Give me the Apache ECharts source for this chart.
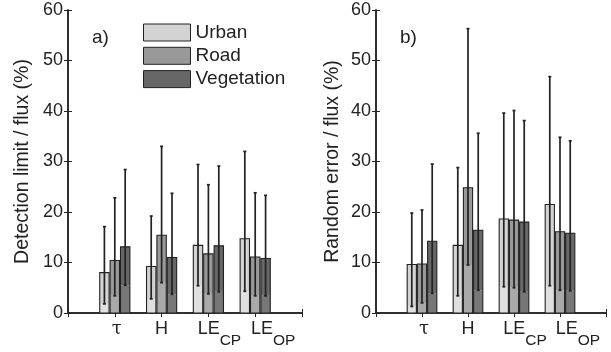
<!DOCTYPE html>
<html>
<head>
<meta charset="utf-8">
<script src="https://cdn.jsdelivr.net/npm/echarts@6/dist/echarts.min.js"></script>
<style>
  html, body { margin: 0; padding: 0; background: #fff; }
  #chart { width: 611px; height: 352px; }
</style>
</head>
<body>
<div id="chart"></div>
<script>
// Flux categories (x positions 1..4) and their axis labels
const categories = ['τ', 'H', 'LE_CP', 'LE_OP'];
const yTicks = [0, 10, 20, 30, 40, 50, 60];

// a) Detection limit / flux (%): mean, lower and upper whisker per category
const detUrban     = [8.0, 9.2, 13.4, 14.7];
const detUrbanLow  = [1.8, 2.8, 5.4, 4.3];
const detUrbanHigh = [17.1, 19.2, 29.4, 32.0];
const detRoad      = [10.4, 15.4, 11.7, 11.1];
const detRoadLow   = [3.4, 6.0, 3.8, 3.4];
const detRoadHigh  = [22.8, 33.0, 25.4, 23.8];
const detVeg       = [13.1, 11.0, 13.3, 10.8];
const detVegLow    = [5.5, 3.7, 4.2, 3.4];
const detVegHigh   = [28.4, 23.7, 29.1, 23.3];

// b) Random error / flux (%)
const rndUrban     = [9.6, 13.4, 18.6, 21.5];
const rndUrbanLow  = [1.3, 3.4, 5.2, 5.4];
const rndUrbanHigh = [19.8, 28.8, 39.6, 46.8];
const rndRoad      = [9.7, 24.8, 18.4, 16.1];
const rndRoadLow   = [2.0, 9.5, 5.0, 4.5];
const rndRoadHigh  = [20.4, 56.3, 40.1, 34.8];
const rndVeg       = [14.2, 16.4, 18.0, 15.8];
const rndVegLow    = [3.9, 4.5, 4.2, 4.4];
const rndVegHigh   = [29.5, 35.6, 38.1, 34.1];

// ---- styling ----
const FONT = "'Liberation Sans', Arial, Helvetica, sans-serif";
const INK = '#222';
const SLOT = 0.222;   // group slot per surface type (x units)
const BAR_W = 0.2;    // drawn bar width (x units)
const surfaces = [
  { name: 'Urban',      color: '#d3d3d3', lower: '#e0e0e0', offset: -SLOT },
  { name: 'Road',       color: '#999999', lower: '#a9a9a9', offset: 0 },
  { name: 'Vegetation', color: '#676767', lower: '#777777', offset: SLOT }
];
// horizontal nudge (px) of each category label
const labelShift = { 'τ': 2, 'H': 0, 'LE_CP': 11, 'LE_OP': 18 };

function rows(mean, low, high) {
  return mean.map((v, i) => [i + 1, v, low[i], high[i]]);
}

function makeRender(offset, lowerColor) {
  return function (params, api) {
    const x = api.value(0) + offset;
    const v = api.value(1), lo = api.value(2), hi = api.value(3);
    const color = api.visual('color');
    const pBase = api.coord([x - BAR_W / 2, 0]);
    const pTop = api.coord([x + BAR_W / 2, v]);
    const pLo = api.coord([x, lo]);
    const pHi = api.coord([x, hi]);
    const left = pBase[0], right = pTop[0], w = right - left;
    const children = [
      { type: 'rect', shape: { x: left, y: pLo[1], width: w, height: pBase[1] - pLo[1] },
        style: { fill: lowerColor } },
      { type: 'rect', shape: { x: left, y: pTop[1], width: w, height: pLo[1] - pTop[1] },
        style: { fill: color } },
      { type: 'rect', shape: { x: left, y: pTop[1], width: w, height: pBase[1] - pTop[1] },
        style: { fill: 'none', stroke: INK, lineWidth: 1.1 } },
      { type: 'line', shape: { x1: pLo[0], y1: pLo[1], x2: pHi[0], y2: pHi[1] },
        style: { stroke: INK, lineWidth: 1.7 } },
      { type: 'line', shape: { x1: pLo[0] - 1.5, y1: pLo[1], x2: pLo[0] + 1.5, y2: pLo[1] },
        style: { stroke: INK, lineWidth: 1.7 } },
      { type: 'line', shape: { x1: pHi[0] - 1.5, y1: pHi[1], x2: pHi[0] + 1.5, y2: pHi[1] },
        style: { stroke: INK, lineWidth: 1.7 } }
    ];
    return { type: 'group', children: children };
  };
}

function catLabel(value) {
  const name = categories[Math.round(value) - 1];
  if (!name || Math.abs(value - Math.round(value)) > 1e-6) return '';
  const pad = labelShift[name] * 2;
  if (name.indexOf('_') >= 0) {
    const parts = name.split('_');
    return '{m' + pad + '|' + parts[0] + '}{s|' + parts[1] + '}';
  }
  if (name === 'τ') return '{g' + pad + '|' + name + '}';
  return '{m' + pad + '|' + name + '}';
}

const richLabels = { s: { fontSize: 15.5, fontFamily: FONT, color: INK, verticalAlign: 'top', padding: [13, 0, 0, 0] } };
Object.values(labelShift).forEach(function (sh) {
  const pad = sh * 2;
  richLabels['m' + pad] = { fontSize: 18, fontFamily: FONT, color: INK, verticalAlign: 'top', padding: [0, 0, 0, pad] };
  richLabels['g' + pad] = { fontSize: 18, fontFamily: "'DejaVu Serif', 'Liberation Serif', serif", color: INK, verticalAlign: 'top', padding: [0, 0, 0, pad] };
});

const frameLine = { show: true, lineStyle: { color: INK, width: 1.5 } };

function xAxes(gridIndex) {
  return [
    { type: 'value', gridIndex: gridIndex, min: 0, max: 5, interval: 1, position: 'bottom',
      axisLine: frameLine, splitLine: { show: false },
      axisTick: { show: true, inside: true, length: 4, lineStyle: { color: INK, width: 1 } },
      axisLabel: { show: true, margin: 7, formatter: catLabel, rich: richLabels } },
    { type: 'value', gridIndex: gridIndex, min: 0, max: 5, interval: 1, position: 'top',
      axisLine: frameLine, splitLine: { show: false },
      axisTick: { show: true, inside: true, length: 4, lineStyle: { color: INK, width: 1 } },
      axisLabel: { show: false } }
  ];
}

function yAxes(gridIndex, title, gap) {
  return [
    { type: 'value', gridIndex: gridIndex, min: yTicks[0], max: yTicks[yTicks.length - 1], interval: 10,
      position: 'left', name: title, nameLocation: 'middle', nameGap: gap,
      nameTextStyle: { fontSize: 19.5, fontFamily: FONT, color: INK },
      axisLine: frameLine, splitLine: { show: false },
      axisTick: { show: true, inside: true, length: 4, lineStyle: { color: INK, width: 1 } },
      axisLabel: { fontSize: 18, fontFamily: FONT, color: INK, margin: 5 } },
    { type: 'value', gridIndex: gridIndex, min: yTicks[0], max: yTicks[yTicks.length - 1], interval: 10,
      position: 'right', axisLine: frameLine, splitLine: { show: false },
      axisTick: { show: true, inside: true, length: 4, lineStyle: { color: INK, width: 1 } },
      axisLabel: { show: false } }
  ];
}

const panelData = [
  [rows(detUrban, detUrbanLow, detUrbanHigh), rows(detRoad, detRoadLow, detRoadHigh), rows(detVeg, detVegLow, detVegHigh)],
  [rows(rndUrban, rndUrbanLow, rndUrbanHigh), rows(rndRoad, rndRoadLow, rndRoadHigh), rows(rndVeg, rndVegLow, rndVegHigh)]
];

const series = [];
panelData.forEach(function (panel, p) {
  panel.forEach(function (data, k) {
    const s = surfaces[k];
    series.push({
      type: 'custom', name: s.name,
      xAxisIndex: p * 2, yAxisIndex: p * 2,
      itemStyle: { color: s.color, borderColor: INK, borderWidth: 1 },
      renderItem: makeRender(s.offset, s.lower),
      encode: { x: 0, y: 1 },
      data: data, clip: true, silent: true
    });
  });
});

const chart = echarts.init(document.getElementById('chart'), null, { renderer: 'canvas' });
chart.setOption({
  animation: false,
  backgroundColor: '#fff',
  grid: [
    { left: 68, top: 10, width: 234, height: 303 },
    { left: 376, top: 10, width: 230, height: 303 }
  ],
  xAxis: xAxes(0).concat(xAxes(1)),
  yAxis: yAxes(0, 'Detection limit / flux (%)', 35).concat(yAxes(1, 'Random error / flux (%)', 33)),
  legend: {
    data: surfaces.map(s => s.name),
    orient: 'vertical', left: 143, top: 23, padding: 0,
    icon: 'rect', itemWidth: 47, itemHeight: 17, itemGap: 4.3,
    itemStyle: { borderColor: INK, borderWidth: 1 },
    textStyle: { fontSize: 19, fontFamily: FONT, color: INK },
    selectedMode: false
  },
  graphic: [
    { type: 'text', left: 92, top: 28, style: { text: 'a)', fontSize: 19, fontFamily: FONT, fill: INK } },
    { type: 'text', left: 400, top: 28, style: { text: 'b)', fontSize: 19, fontFamily: FONT, fill: INK } }
  ],
  series: series
});
</script>
</body>
</html>
